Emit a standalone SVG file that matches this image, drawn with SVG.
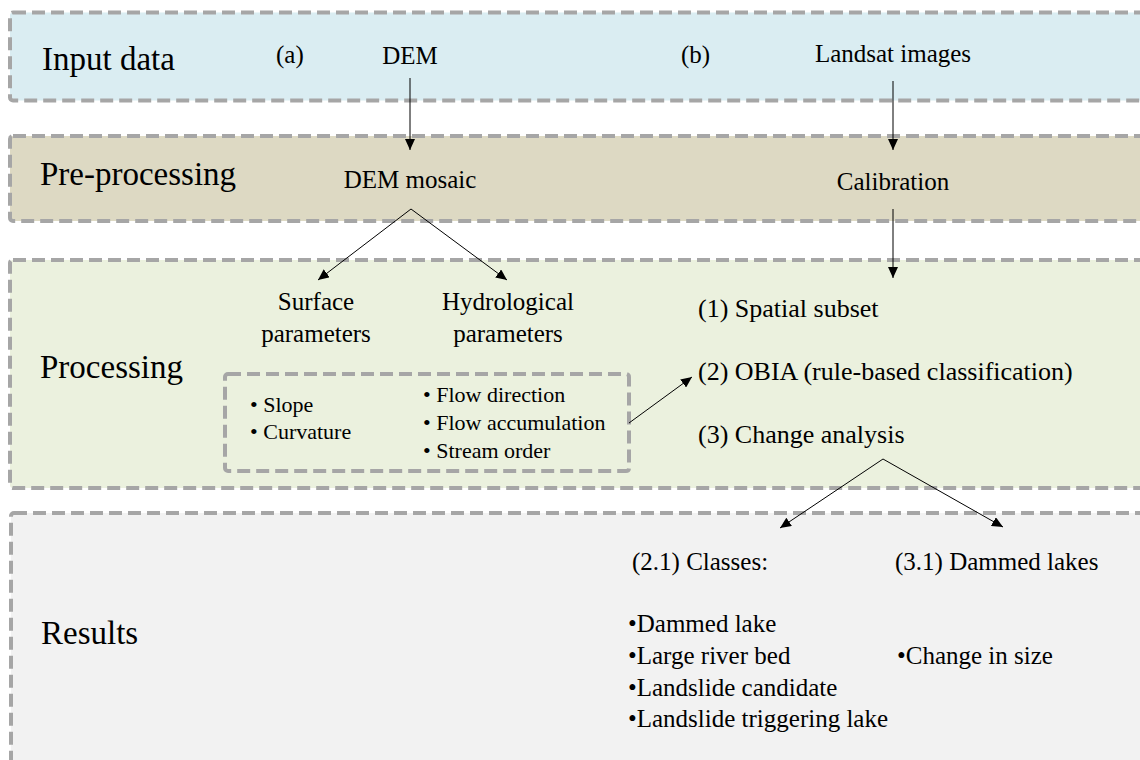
<svg xmlns="http://www.w3.org/2000/svg" width="1140" height="760" viewBox="0 0 1140 760">
  <style>
    .band { stroke: #a6a6a6; stroke-width: 4; stroke-dasharray: 13 6; }
    .t { font-family: "Liberation Serif", "Times New Roman", serif; fill: #000; }
    .h { font-size: 33px; }
    .m { font-size: 25px; }
    .r { font-size: 26px; }
    .s { font-size: 22px; }
    .c { text-anchor: middle; }
    .conn { stroke: #000; stroke-width: 1; fill: none; marker-end: url(#arrow); }
  </style>
  <defs>
    <marker id="arrow" markerUnits="userSpaceOnUse" markerWidth="12" markerHeight="10" refX="11" refY="5" orient="auto">
      <path d="M0,0 L11,5 L0,10 Z" fill="#000"/>
    </marker>
  </defs>
  <rect width="1140" height="760" fill="#ffffff"/>

  <!-- Stage bands -->
  <g id="input-data">
    <rect class="band" x="10" y="12.5" width="1160" height="88" rx="3" fill="#daedf2"/>
    <text class="t h" x="42" y="70">Input data</text>
    <text class="t m" x="276" y="63">(a)</text>
    <text class="t m c" x="410" y="64">DEM</text>
    <text class="t m" x="681" y="63">(b)</text>
    <text class="t m c" x="893" y="62">Landsat images</text>
  </g>

  <g id="pre-processing">
    <rect class="band" x="10" y="136" width="1160" height="85" rx="3" fill="#ddd9c3"/>
    <text class="t h" x="40" y="185">Pre-processing</text>
    <text class="t m c" x="410" y="188">DEM mosaic</text>
    <text class="t m c" x="893" y="190">Calibration</text>
  </g>

  <g id="processing">
    <rect class="band" x="10" y="260" width="1160" height="228" rx="3" fill="#ebf1de"/>
    <text class="t h" x="40" y="378">Processing</text>
    <text class="t m c" x="316" y="310">Surface</text>
    <text class="t m c" x="316" y="342">parameters</text>
    <text class="t m c" x="508" y="310">Hydrological</text>
    <text class="t m c" x="508" y="342">parameters</text>
    <text class="t r" x="698" y="317">(1) Spatial subset</text>
    <text class="t r" x="698" y="380">(2) OBIA (rule-based classification)</text>
    <text class="t r" x="698" y="443">(3) Change analysis</text>
  </g>

  <g id="parameter-list">
    <rect class="band" x="225" y="374" width="404" height="97" rx="3" fill="none"/>
    <text class="t s" x="250" y="412">• Slope</text>
    <text class="t s" x="250" y="439">• Curvature</text>
    <text class="t s" x="423" y="402">• Flow direction</text>
    <text class="t s" x="423" y="430">• Flow accumulation</text>
    <text class="t s" x="423" y="458">• Stream order</text>
  </g>

  <g id="results">
    <rect class="band" x="11" y="513" width="1160" height="280" rx="3" fill="#f2f2f2"/>
    <text class="t h" x="41" y="644">Results</text>
    <text class="t m" x="632" y="570">(2.1) Classes:</text>
    <text class="t m" x="895" y="570">(3.1) Dammed lakes</text>
    <text class="t m" x="628" y="632">•Dammed lake</text>
    <text class="t m" x="628" y="664">•Large river bed</text>
    <text class="t m" x="628" y="696">•Landslide candidate</text>
    <text class="t m" x="628" y="727">•Landslide triggering lake</text>
    <text class="t m" x="897" y="664">•Change in size</text>
  </g>

  <!-- Connectors -->
  <g id="connectors">
    <line class="conn" x1="410" y1="78" x2="410" y2="150"/>
    <line class="conn" x1="893" y1="81" x2="893" y2="150"/>
    <line class="conn" x1="411" y1="209" x2="318" y2="280"/>
    <line class="conn" x1="411" y1="209" x2="507" y2="280"/>
    <line class="conn" x1="893" y1="209" x2="893" y2="278"/>
    <line class="conn" x1="629" y1="423" x2="692" y2="377"/>
    <line class="conn" x1="883" y1="459" x2="780" y2="528"/>
    <line class="conn" x1="883" y1="459" x2="1003" y2="527"/>
  </g>
</svg>
